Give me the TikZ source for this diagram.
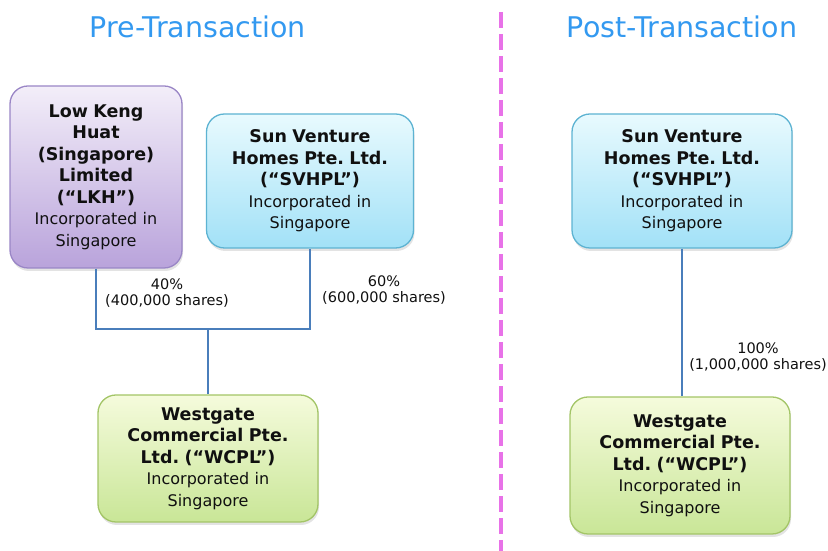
\documentclass[tikz,border=0pt]{standalone}
\usepackage{fontspec}
\setmainfont{DejaVu Sans}
\usepackage{xcolor}
\usepackage{tikz}
\usetikzlibrary{positioning,calc,shadows}
\frenchspacing
\definecolor{title}{HTML}{3399F0}
\definecolor{divider}{HTML}{E872E8}
\definecolor{wire}{HTML}{4A7EBB}
\definecolor{lkhline}{HTML}{9A86C6}
\definecolor{lkhtop}{HTML}{F3EEF9}
\definecolor{lkhbot}{HTML}{B9A3DB}
\definecolor{svline}{HTML}{5DB3D2}
\definecolor{svtop}{HTML}{E8FAFE}
\definecolor{svbot}{HTML}{A2E1F7}
\definecolor{wcline}{HTML}{A3C567}
\definecolor{wctop}{HTML}{F5FBDC}
\definecolor{wcbot}{HTML}{C9E697}
\definecolor{ink}{HTML}{101010}
\tikzset{
  entity/.style   = {rounded corners=18pt, line width=1.3pt, align=center, inner sep=0pt,
                     font=\fontsize{16}{21.5}\selectfont\color{ink},
                     drop shadow={shadow xshift=1pt, shadow yshift=-3pt, opacity=0.22}},
  lkhbox/.style   = {entity, draw=lkhline, top color=lkhtop, bottom color=lkhbot},
  svbox/.style    = {entity, draw=svline,  top color=svtop,  bottom color=svbot},
  wcbox/.style    = {entity, draw=wcline,  top color=wctop,  bottom color=wcbot},
  heading/.style  = {font=\fontsize{28.5}{31}\selectfont\color{title}, inner sep=0pt},
  stake/.style    = {font=\fontsize{14.5}{16}\selectfont\color{ink}, align=center, inner sep=0pt},
  link/.style     = {draw=wire, line width=2.6pt, line join=miter},
}

\begin{document}
\begin{tikzpicture}[x=1pt,y=1pt]
\path[use as bounding box] (0,0) rectangle (828,551);

% headings and the divider
\node[heading] (pre)  at (198,524) {Pre-Transaction};
\node[heading] (post) at (682,524) {Post-Transaction};
\draw[divider, line width=4.5pt, dash pattern=on 16pt off 6pt] (501,539) -- (501,0);

% ---------- before ---------------------------------------------------------
\node[lkhbox, minimum width=172pt, minimum height=182pt, text width=160pt] (lkh) at (96,374)
  {\bfseries\fontsize{17.5}{21.5}\selectfont Low Keng\\ Huat\\ (Singapore)\\ Limited\\ (“LKH”)\\
   \mdseries\fontsize{16}{21.5}\selectfont Incorporated in\\ Singapore};
\node[svbox, minimum width=207pt, minimum height=134pt, text width=195pt] (svl) at (310,370)
  {\bfseries\fontsize{17.5}{21.5}\selectfont Sun Venture\\ Homes Pte. Ltd.\\ (“SVHPL”)\\
   \mdseries\fontsize{16}{21.5}\selectfont Incorporated in\\ Singapore};
\node[wcbox, minimum width=220pt, minimum height=127pt, text width=208pt] (wcl) at (208,92.5)
  {\bfseries\fontsize{17.5}{21.5}\selectfont Westgate\\ Commercial Pte.\\ Ltd. (“WCPL”)\\
   \mdseries\fontsize{16}{21.5}\selectfont Incorporated in\\ Singapore};

\coordinate (tee) at (wcl.north |- 0,222);
\draw[link] (lkh.south) |- (tee) -| (svl.south);
\draw[link] (tee) -- (wcl.north);

\node[stake] (lkhshare) at (167,258) {40\%\\ (400,000 shares)};
\node[stake] (svlshare) at (384,261) {60\%\\ (600,000 shares)};

% ---------- after ----------------------------------------------------------
\node[svbox, minimum width=220pt, minimum height=134pt, text width=208pt] (svr) at (682,370)
  {\bfseries\fontsize{17.5}{21.5}\selectfont Sun Venture\\ Homes Pte. Ltd.\\ (“SVHPL”)\\
   \mdseries\fontsize{16}{21.5}\selectfont Incorporated in\\ Singapore};
\node[wcbox, minimum width=220pt, minimum height=137pt, text width=208pt] (wcr) at (680,85.5)
  {\bfseries\fontsize{17.5}{21.5}\selectfont Westgate\\ Commercial Pte.\\ Ltd. (“WCPL”)\\
   \mdseries\fontsize{16}{21.5}\selectfont Incorporated in\\ Singapore};

\draw[link] (svr.south) -- (svr.south |- wcr.north);
\node[stake] (svrshare) at (758,194) {100\%\\ (1,000,000 shares)};

\end{tikzpicture}
\end{document}
